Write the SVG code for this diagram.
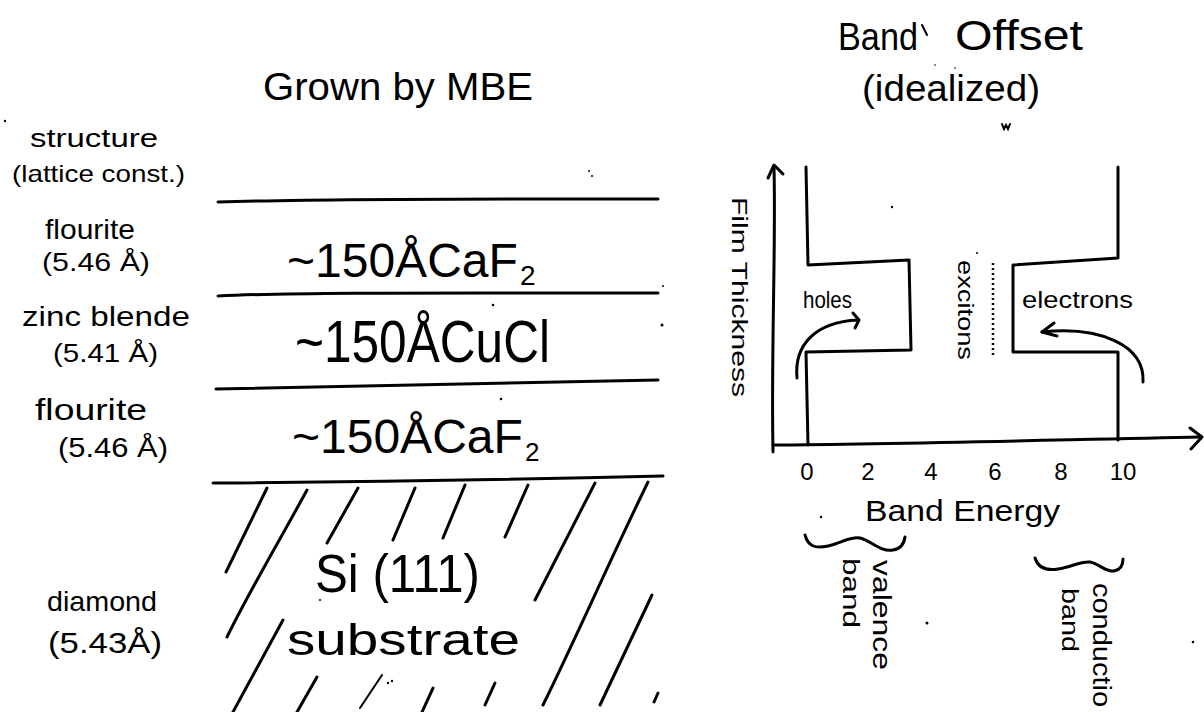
<svg xmlns="http://www.w3.org/2000/svg" width="1204" height="712" viewBox="0 0 1204 712">
<style>
.t{font-family:"Liberation Sans","DejaVu Sans",sans-serif;fill:#000}
.ln{fill:none;stroke:#000;stroke-width:3;stroke-linecap:round;stroke-linejoin:round}
.thin{fill:none;stroke:#000;stroke-width:2;stroke-linecap:round}
.dot{fill:#000}
</style>
<rect x="0" y="0" width="1204" height="712" fill="#fff"/>

<g id="title-left">
<text class="t" x="263" y="100" font-size="38" textLength="270" lengthAdjust="spacingAndGlyphs">Grown by MBE</text>
</g>
<g id="title-right">
<text class="t" x="838" y="50" font-size="38" textLength="80" lengthAdjust="spacingAndGlyphs">Band</text>
<text class="t" x="955" y="50" font-size="42" textLength="128" lengthAdjust="spacingAndGlyphs">Offset</text>
<path class="thin" d="M922,25 L927,35"/>
<text class="t" x="862" y="101" font-size="36" textLength="178" lengthAdjust="spacingAndGlyphs">(idealized)</text>
</g>

<g id="structure-labels">
<text class="t" x="30" y="147" font-size="26" textLength="128" lengthAdjust="spacingAndGlyphs">structure</text>
<text class="t" x="12" y="182" font-size="24" textLength="173" lengthAdjust="spacingAndGlyphs">(lattice const.)</text>
<text class="t" x="45" y="239" font-size="28" textLength="90" lengthAdjust="spacingAndGlyphs">flourite</text>
<text class="t" x="42" y="271" font-size="26" textLength="108" lengthAdjust="spacingAndGlyphs">(5.46 Å)</text>
<text class="t" x="22" y="326" font-size="28" textLength="168" lengthAdjust="spacingAndGlyphs">zinc blende</text>
<text class="t" x="53" y="362" font-size="26" textLength="105" lengthAdjust="spacingAndGlyphs">(5.41 Å)</text>
<text class="t" x="35" y="420" font-size="30" textLength="112" lengthAdjust="spacingAndGlyphs">flourite</text>
<text class="t" x="58" y="457" font-size="28" textLength="110" lengthAdjust="spacingAndGlyphs">(5.46 Å)</text>
<text class="t" x="47" y="611" font-size="28" textLength="110" lengthAdjust="spacingAndGlyphs">diamond</text>
<text class="t" x="48" y="653" font-size="30" textLength="114" lengthAdjust="spacingAndGlyphs">(5.43Å)</text>
</g>

<g id="layers">
<path class="ln" d="M218,202 C350,198 500,199 658,199"/>
<path class="ln" d="M218,296 C300,292 450,293 658,293"/>
<path class="ln" d="M216,389 C350,385 500,382 658,380"/>
<path class="ln" d="M213,483 C350,482 500,480 663,476"/>
<text class="t" x="287" y="277" font-size="48">~150ÅCaF</text>
<text class="t" x="520" y="285" font-size="28">2</text>
<text class="t" x="295" y="362" font-size="60" textLength="255" lengthAdjust="spacingAndGlyphs">~150ÅCuCl</text>
<text class="t" x="292" y="453" font-size="48">~150ÅCaF</text>
<text class="t" x="525" y="461" font-size="26">2</text>
</g>

<g id="substrate">
<path class="ln" d="M267,488 L226,572"/>
<path class="ln" d="M307,490 C280,540 250,590 227,637"/>
<path class="ln" d="M358,488 L327,543"/>
<path class="ln" d="M415,488 L393,540"/>
<path class="ln" d="M465,485 L443,538"/>
<path class="ln" d="M528,485 L505,537"/>
<path class="ln" d="M595,483 L535,600"/>
<path class="ln" d="M648,482 C610,560 575,640 543,705"/>
<path class="ln" d="M652,595 L600,705"/>
<path class="ln" d="M283,620 L233,712"/>
<path class="ln" d="M317,677 L297,712"/>
<path class="thin" d="M382,675 L360,708"/>
<path class="ln" d="M433,688 L422,712"/>
<path class="ln" d="M495,683 L485,705"/>
<path class="ln" d="M658,693 L654,702"/>
<circle class="dot" cx="388" cy="683" r="1.2"/>
<circle class="dot" cx="392" cy="681" r="1.2"/>
<circle class="dot" cx="320" cy="600" r="1"/>
<text class="t" x="315" y="592" font-size="54" textLength="165" lengthAdjust="spacingAndGlyphs">Si (111)</text>
<text class="t" x="287" y="655" font-size="44" textLength="233" lengthAdjust="spacingAndGlyphs">substrate</text>
</g>

<g id="band-diagram">
<g id="axes">
<path class="ln" d="M773,452 C771,350 776,250 774,167"/>
<path class="ln" d="M768,178 L774,165 L783,174"/>
<path class="ln" d="M773,445 C900,444 1050,440 1201,437"/>
<path class="ln" d="M1190,428 L1202,437 L1191,449"/>
<text class="t" transform="translate(732,197) rotate(90)" font-size="22" textLength="200" lengthAdjust="spacingAndGlyphs">Film Thickness</text>
<g font-size="24" text-anchor="middle">
<text class="t" x="807" y="480">0</text>
<text class="t" x="868" y="480">2</text>
<text class="t" x="931" y="480">4</text>
<text class="t" x="995" y="480">6</text>
<text class="t" x="1061" y="480">8</text>
<text class="t" x="1123" y="480">10</text>
</g>
<text class="t" x="865" y="521" font-size="30" textLength="195" lengthAdjust="spacingAndGlyphs">Band Energy</text>
</g>
<g id="valence-band">
<path class="ln" d="M806,167 L808,265 L909,260 L911,350 L806,352 L808,445"/>
<text class="t" x="803" y="308" font-size="24" textLength="49" lengthAdjust="spacingAndGlyphs">holes</text>
<path class="ln" d="M805,535 C808,546 815,549 828,546 C842,543 850,536 860,538 C872,541 880,552 893,550 C900,549 904,544 905,537"/>
<text class="t" transform="translate(873,560) rotate(90)" font-size="26" textLength="110" lengthAdjust="spacingAndGlyphs">valence</text>
<text class="t" transform="translate(843,558) rotate(90)" font-size="24" textLength="70" lengthAdjust="spacingAndGlyphs">band</text>
</g>
<g id="conduction-band">
<path class="ln" d="M1118,167 L1118,258 L1013,265 L1013,352 L1118,352 L1118,440"/>
<text class="t" x="1022" y="308" font-size="24" textLength="111" lengthAdjust="spacingAndGlyphs">electrons</text>
<path class="ln" d="M1035,558 C1038,568 1046,571 1058,569 C1072,567 1080,561 1090,562 C1100,564 1105,572 1114,571 C1120,570 1123,566 1123,559"/>
<text class="t" transform="translate(1093,583) rotate(90)" font-size="26" textLength="124" lengthAdjust="spacingAndGlyphs">conductio</text>
<text class="t" transform="translate(1062,588) rotate(90)" font-size="24" textLength="64" lengthAdjust="spacingAndGlyphs">band</text>
</g>
<g id="excitons">
<path fill="none" stroke="#000" stroke-width="2.5" stroke-dasharray="2 3" d="M993,263 L993,357"/>
<text class="t" transform="translate(958,260) rotate(90)" font-size="22" textLength="100" lengthAdjust="spacingAndGlyphs">excitons</text>
</g>
</g>

<g id="connectors">
<path class="ln" d="M797,378 C794,345 815,322 858,320"/>
<path class="ln" d="M853,313 L859,320 L855,328"/>
<path class="ln" d="M1143,382 C1145,345 1100,326 1042,332"/>
<path class="ln" d="M1054,323 L1042,332 L1057,336"/>
</g>

<g id="specks">
<circle class="dot" cx="589" cy="171" r="1"/>
<circle class="dot" cx="592" cy="176" r="1"/>
<circle class="dot" cx="663" cy="286" r="1"/>
<circle class="dot" cx="493" cy="305" r="1.3"/>
<circle class="dot" cx="662" cy="325" r="1.5"/>
<circle class="dot" cx="501" cy="399" r="1.3"/>
<circle class="dot" cx="5" cy="121" r="1.2"/>
<circle class="dot" cx="892" cy="207" r="1.2"/>
<circle class="dot" cx="977" cy="253" r="1"/>
<circle class="dot" cx="821" cy="517" r="1.2"/>
<circle class="dot" cx="927" cy="623" r="1.5"/>
<circle class="dot" cx="1193" cy="642" r="1.3"/>
<circle class="dot" cx="935" cy="65" r="0.8"/>
<circle class="dot" cx="955" cy="68" r="0.8"/>
<path class="thin" d="M1002,124 L1004,129 L1006,125 L1008,129 L1010,124" stroke-width="1.5"/>
</g>
</svg>
